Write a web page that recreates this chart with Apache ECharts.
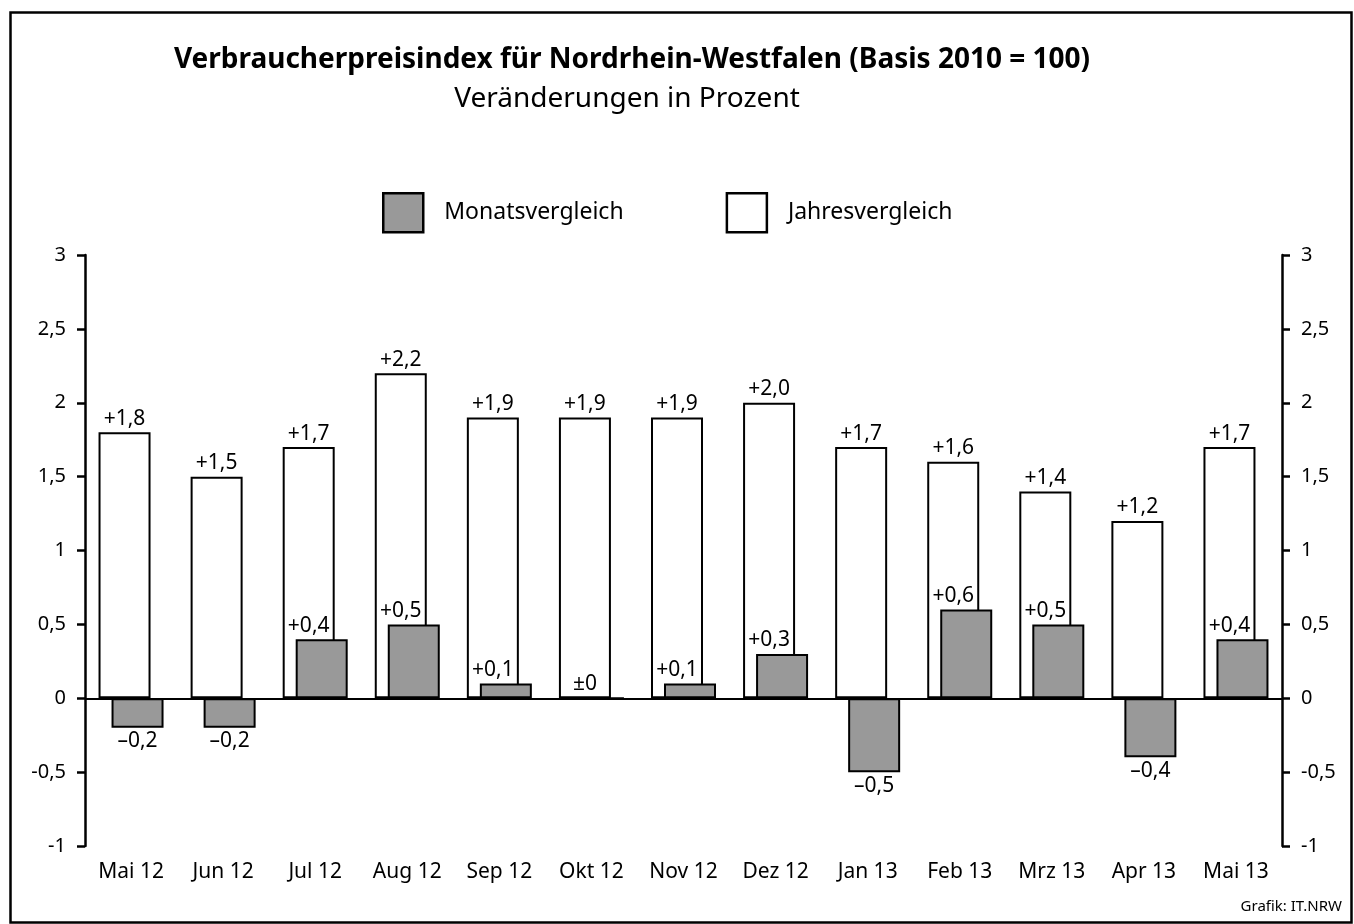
<!DOCTYPE html>
<html>
<head>
<meta charset="utf-8">
<script src="https://cdn.jsdelivr.net/npm/echarts@6/dist/echarts.min.js"></script>
<style>
html,body{margin:0;padding:0;background:#fff;}
#chart{width:1354px;height:924px;}
</style>
</head>
<body>
<div id="chart"></div>
<script>
var categories = ['Mai 12','Jun 12','Jul 12','Aug 12','Sep 12','Okt 12','Nov 12','Dez 12','Jan 13','Feb 13','Mrz 13','Apr 13','Mai 13'];
var jahresvergleich = [1.8, 1.5, 1.7, 2.2, 1.9, 1.9, 1.9, 2.0, 1.7, 1.6, 1.4, 1.2, 1.7];
var monatsvergleich = [-0.2, -0.2, 0.4, 0.5, 0.1, 0, 0.1, 0.3, -0.5, 0.6, 0.5, -0.4, 0.4];
var yTicks = [-1, -0.5, 0, 0.5, 1, 1.5, 2, 2.5, 3];

var FONT = '"Noto Sans", "Open Sans", sans-serif';

function fmtSigned(v) {
  if (v === 0) return '\u00B10';
  return (v > 0 ? '+' : '\u2013') + Math.abs(v).toFixed(1).replace('.', ',');
}
function fmtTick(v) {
  return String(v).replace('.', ',');
}

var monatsData = monatsvergleich.map(function (v) {
  return {
    value: v,
    label: {
      position: v < 0 ? 'bottom' : 'top',
      offset: v < 0 ? [0, 0] : [-13, 0]
    }
  };
});

var axisCommon = {
  type: 'value',
  min: yTicks[0],
  max: yTicks[yTicks.length - 1],
  interval: 0.5,
  axisLine: { show: true, lineStyle: { color: '#000', width: 2.5 } },
  axisTick: { show: true, inside: false, length: 8, lineStyle: { color: '#000', width: 2.5 } },
  splitLine: { show: false },
  axisLabel: { color: '#000', fontSize: 20, fontFamily: FONT, margin: 19, formatter: fmtTick }
};

var chart = echarts.init(document.getElementById('chart'), null, { renderer: 'canvas' });
chart.setOption({
  backgroundColor: '#fff',
  animation: false,
  title: [
    { text: 'Verbraucherpreisindex f\u00FCr Nordrhein-Westfalen (Basis 2010 = 100)', left: 627, top: 41, textAlign: 'center',
      textStyle: { fontFamily: FONT, fontWeight: 'bold', fontSize: 28, color: '#000' } },
    { text: 'Ver\u00E4nderungen in Prozent', left: 622, top: 80, textAlign: 'center',
      textStyle: { fontFamily: FONT, fontWeight: 'normal', fontSize: 28, color: '#000' } }
  ],
  legend: {
    data: ['Monatsvergleich', 'Jahresvergleich'],
    left: 377, top: 187,
    icon: 'rect',
    itemWidth: 40, itemHeight: 39,
    itemGap: 102,
    itemStyle: { borderColor: '#000', borderWidth: 2.5 },
    textStyle: { fontFamily: FONT, fontSize: 23, color: '#000', padding: [0, 0, 0, 16] }
  },
  grid: { left: 85, right: 72, top: 255, bottom: 78, containLabel: false },
  xAxis: {
    type: 'category',
    data: categories,
    axisLine: { show: false },
    axisTick: { show: false },
    axisLabel: { color: '#000', fontSize: 21, fontFamily: FONT, margin: 16 }
  },
  yAxis: [
    Object.assign({}, axisCommon, { position: 'left' }),
    Object.assign({}, axisCommon, { position: 'right' })
  ],
  series: [
    {
      name: 'Jahresvergleich',
      type: 'bar',
      data: jahresvergleich,
      barWidth: 52,
      barGap: '-75%',
      itemStyle: { color: '#fff', borderColor: '#000', borderWidth: 2 },
      label: { show: true, position: 'top', distance: 3, color: '#000', fontSize: 21, fontFamily: FONT, formatter: function (p) { return fmtSigned(p.value); } },
      z: 2
    },
    {
      name: 'Monatsvergleich',
      type: 'bar',
      data: monatsData,
      barWidth: 52,
      barGap: '-75%',
      itemStyle: { color: '#999999', borderColor: '#000', borderWidth: 2 },
      label: { show: true, distance: 3, color: '#000', fontSize: 21, fontFamily: FONT, formatter: function (p) { return fmtSigned(p.value); } },
      markLine: {
        silent: true,
        symbol: ['none', 'none'],
        label: { show: false },
        lineStyle: { color: '#000', width: 2, type: 'solid' },
        data: [{ yAxis: 0 }]
      },
      z: 3
    }
  ],
  graphic: [
    { type: 'rect', left: 8, top: 10, shape: { x: 0, y: 0, width: 1341, height: 910 },
      style: { fill: 'none', stroke: '#000', lineWidth: 2.5 }, silent: true },
    { type: 'text', right: 12, top: 899,
      style: { text: 'Grafik: IT.NRW', font: '15px "Noto Sans", sans-serif', fill: '#000' } }
  ]
});
</script>
</body>
</html>
